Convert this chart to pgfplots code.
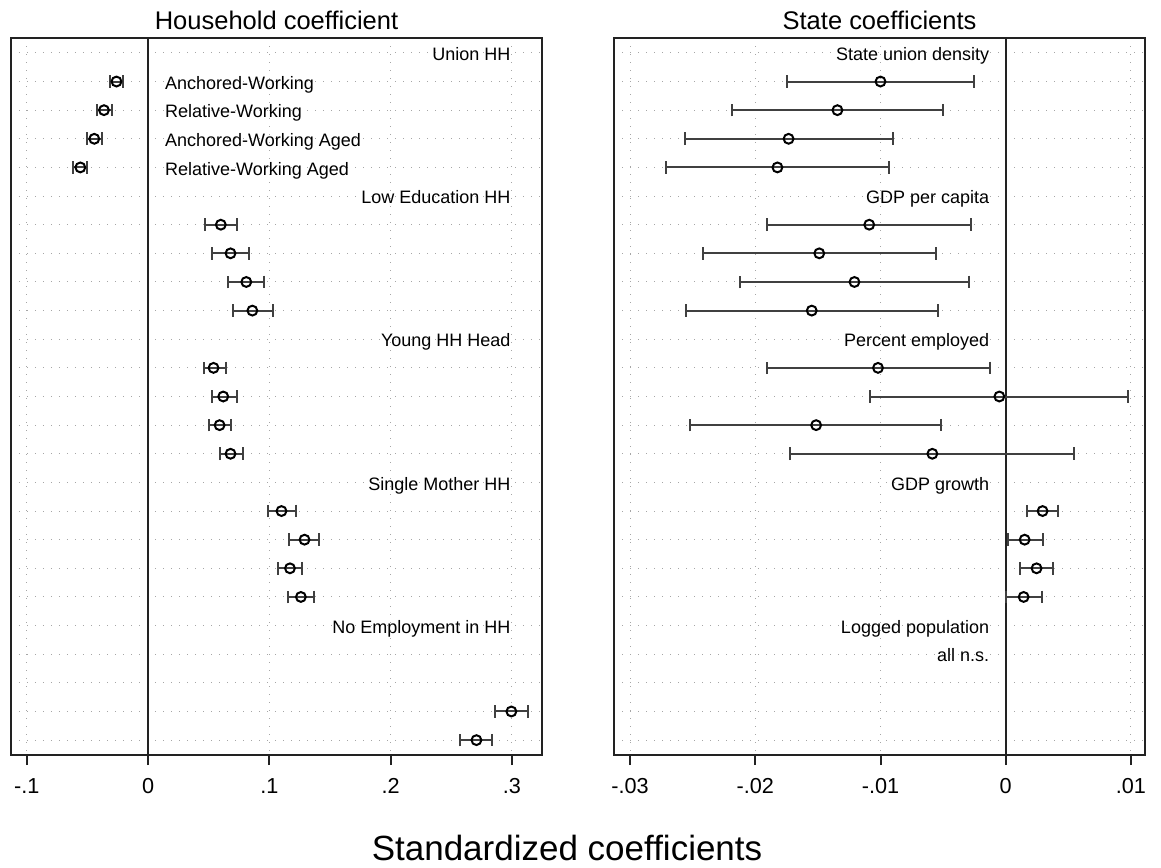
\documentclass[border=0pt]{standalone}
\usepackage{fontspec}
\setmainfont{Liberation Sans}
\usepackage{pgfplots}
\usepackage{pgfplotstable}
\pgfplotsset{compat=1.18}

\pgfplotstableread{
row est lo hi
2 -0.0260 -0.0313 -0.0207
3 -0.0363 -0.0420 -0.0300
4 -0.0443 -0.0500 -0.0380
5 -0.0558 -0.0620 -0.0500
7 0.060 0.047 0.073
8 0.068 0.053 0.083
9 0.081 0.066 0.096
10 0.086 0.070 0.103
12 0.054 0.046 0.064
13 0.062 0.053 0.073
14 0.059 0.050 0.068
15 0.068 0.059 0.078
17 0.110 0.099 0.122
18 0.129 0.116 0.141
19 0.117 0.107 0.127
20 0.126 0.115 0.137
24 0.2995 0.2863 0.3132
25 0.2707 0.2575 0.2836
}\hh

\pgfplotstableread{
row est lo hi
2 -0.01000 -0.01743 -0.00251
3 -0.01344 -0.02183 -0.00502
4 -0.01734 -0.02564 -0.00904
5 -0.01823 -0.02709 -0.00934
7 -0.01090 -0.01905 -0.00278
8 -0.01489 -0.02419 -0.00558
9 -0.01208 -0.02124 -0.00295
10 -0.01549 -0.02557 -0.00537
12 -0.01020 -0.01909 -0.00126
13 -0.00051 -0.01080 0.00980
14 -0.01514 -0.02520 -0.00514
15 -0.00586 -0.01720 0.00543
17 0.00294 0.00171 0.00417
18 0.00151 0.00014 0.00294
19 0.00246 0.00114 0.00380
20 0.00143 0.00000 0.00286
}\st

\definecolor{barcol}{HTML}{404040}
\definecolor{framecol}{HTML}{222222}

\tikzset{lab/.style={font=\fontsize{10.8}{10.8}\selectfont, inner sep=0pt, yshift=-4.6pt}}

\pgfplotsset{
  coefstyle/.style={
    scale only axis, width=318.6pt, height=430.2pt, anchor=south west,
    y dir=reverse, ymin=0.48, ymax=25.52, ytick={1,...,25}, yticklabels={},
    major y tick style={draw=none},
    ymajorgrids, xmajorgrids,
    grid style={gray!70, line width=0.6pt, dash pattern=on 0.6pt off 4.2pt},
    axis line style={line width=1.2pt, framecol},
    xtick pos=bottom, tick align=outside, major tick length=6pt,
    major x tick style={line width=1.2pt, framecol},
    scaled x ticks=false,
    xticklabel style={font=\fontsize{13}{13}\selectfont, anchor=base, yshift=-16.8pt},
    every axis title/.style={font=\fontsize{15.3}{15.3}\selectfont, at={(0.5,1)}, anchor=base, yshift=5.4pt},
    clip=false,
  },
  coefplot/.style={only marks, mark=o, mark size=2.95pt,
    mark options={black, line width=1.2pt, fill=none},
    error bars/.cd, x dir=both, x explicit,
    error bar style={line width=1.2pt, barcol},
    error mark options={line width=1.2pt, barcol, mark size=3.8pt, rotate=90}},
}

\begin{document}
\begin{tikzpicture}
\path[use as bounding box] (0,0) rectangle (696.6pt,520.2pt);

\begin{axis}[coefstyle, at={(6.6pt,67.2pt)},
  xmin=-0.11295, xmax=0.32474,
  xtick={-0.1,0,0.1,0.2,0.3}, xticklabels={-.1,0,.1,.2,.3},
  title={Household coefficient}]
  \addplot[framecol, line width=1.2pt] coordinates {(0,0.48) (0,25.52)};
  \addplot[coefplot] table[x=est, y=row,
     x error plus expr=\thisrow{hi}-\thisrow{est},
     x error minus expr=\thisrow{est}-\thisrow{lo}] {\hh};
  \node[lab, anchor=base east] at (axis cs:0.299,1) {Union HH};
  \node[lab, anchor=base west] at (axis cs:0.0138,2) {Anchored-Working};
  \node[lab, anchor=base west] at (axis cs:0.0138,3) {Relative-Working};
  \node[lab, anchor=base west] at (axis cs:0.0138,4) {Anchored-Working Aged};
  \node[lab, anchor=base west] at (axis cs:0.0138,5) {Relative-Working Aged};
  \node[lab, anchor=base east] at (axis cs:0.299,6) {Low Education HH};
  \node[lab, anchor=base east] at (axis cs:0.299,11) {Young HH Head};
  \node[lab, anchor=base east] at (axis cs:0.299,16) {Single Mother HH};
  \node[lab, anchor=base east] at (axis cs:0.299,21) {No Employment in HH};
\end{axis}

\begin{axis}[coefstyle, at={(368.4pt,67.2pt)},
  xmin=-0.03128, xmax=0.01112,
  xtick={-0.03,-0.02,-0.01,0,0.01}, xticklabels={-.03,-.02,-.01,0,.01},
  title={State coefficients}]
  \addplot[framecol, line width=1.2pt] coordinates {(0,0.48) (0,25.52)};
  \addplot[coefplot] table[x=est, y=row,
     x error plus expr=\thisrow{hi}-\thisrow{est},
     x error minus expr=\thisrow{est}-\thisrow{lo}] {\st};
  \node[lab, anchor=base east] at (axis cs:-0.0013,1) {State union density};
  \node[lab, anchor=base east] at (axis cs:-0.0013,6) {GDP per capita};
  \node[lab, anchor=base east] at (axis cs:-0.0013,11) {Percent employed};
  \node[lab, anchor=base east] at (axis cs:-0.0013,16) {GDP growth};
  \node[lab, anchor=base east] at (axis cs:-0.0013,21) {Logged population};
  \node[lab, anchor=base east] at (axis cs:-0.0013,22) {all n.s.};
\end{axis}

\node[font=\fontsize{21}{21}\selectfont, anchor=base, inner sep=0pt] at (340.2pt,4.2pt) {Standardized coefficients};
\end{tikzpicture}
\end{document}
